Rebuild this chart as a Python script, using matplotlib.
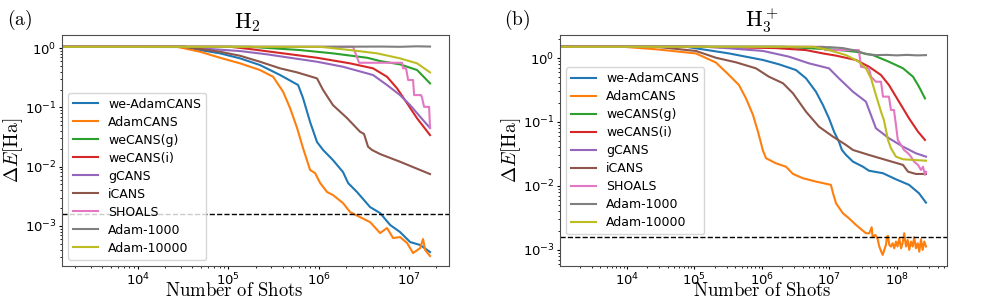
import matplotlib
matplotlib.use("Agg")
import matplotlib.pyplot as plt

plt.rcParams['mathtext.fontset'] = 'cm'

labels = ["we-AdamCANS", "AdamCANS", "weCANS(g)", "weCANS(i)", "gCANS",
          "iCANS", "SHOALS", "Adam-1000", "Adam-10000"]
colors = ["C0", "C1", "C2", "C3", "C4", "C5", "C6", "C7", "C8"]
chem_acc = 1.6e-3

# ---------------- H2 ----------------
h2_weadam_x = [1.44e3, 3.31e4, 4.86e4, 8.09e4, 1.35e5, 2.24e5, 3.74e5, 5.92e5, 6.71e5, 8.04e5,
               9.59e5, 1.12e6, 1.44e6, 1.86e6, 2.12e6, 2.66e6, 3.71e6, 4.79e6, 6.18e6, 7.96e6,
               1.03e7, 1.33e7, 1.71e7]
h2_weadam_y = [1.05, 1.05, 0.925, 0.814, 0.670, 0.517, 0.351, 0.238, 0.1435, 0.0565,
               0.0260, 0.0191, 0.0129, 8.11e-3, 5.28e-3, 3.73e-3, 2.08e-3, 1.65e-3, 1.04e-3, 7.89e-4,
               5.35e-4, 4.77e-4, 3.63e-4]

h2_adam_x = [1.44e3, 2.70e4, 4.86e4, 8.09e4, 1.35e5, 2.24e5, 3.13e5, 4.04e5, 4.82e5, 5.77e5,
             6.71e5, 8.04e5, 9.12e5, 1.04e6, 1.24e6, 1.44e6, 1.86e6, 2.23e6, 2.87e6, 3.71e6,
             4.79e6, 5.71e6, 6.67e6, 7.96e6, 9.53e6, 1.11e7, 1.33e7, 1.43e7, 1.51e7, 1.71e7]
h2_adam_y = [1.05, 1.05, 0.867, 0.686, 0.552, 0.426, 0.328, 0.183, 0.0973, 0.0448,
             0.0206, 8.77e-3, 7.80e-3, 5.28e-3, 3.73e-3, 3.32e-3, 2.43e-3, 1.71e-3, 1.41e-3, 1.16e-3,
             7.59e-4, 9.23e-4, 6.25e-4, 6.50e-4, 5.15e-4, 3.49e-4, 4.24e-4, 6.01e-4, 3.93e-4, 3.11e-4]

h2_wecg_x = [1.44e3, 1.74e5, 6.22e5, 1.44e6, 3.44e6, 4.79e6, 7.96e6, 1.23e7, 1.71e7]
h2_wecg_y = [1.05, 1.05, 0.925, 0.814, 0.686, 0.604, 0.531, 0.426, 0.254]

h2_weci_x = [1.44e3, 1.05e5, 1.74e5, 4.04e5, 9.59e5, 2.23e6, 4.00e6, 5.71e6, 7.38e6, 9.53e6,
             1.23e7, 1.71e7]
h2_weci_y = [1.05, 1.05, 0.962, 0.814, 0.686, 0.552, 0.455, 0.328, 0.209, 0.117,
             0.0652, 0.0341]

h2_gcans_x = [1.44e3, 3.77e4, 4.86e4, 1.35e5, 2.69e5, 4.82e5, 9.59e5, 1.86e6, 4.00e6, 5.71e6,
              7.96e6, 1.03e7, 1.33e7, 1.71e7]
h2_gcans_y = [1.05, 1.04, 0.99, 0.890, 0.783, 0.686, 0.588, 0.484, 0.351, 0.238,
              0.161, 0.109, 0.0694, 0.0448]

h2_icans_x = [1.44e3, 3.31e4, 4.86e4, 8.09e4, 1.35e5, 2.24e5, 3.74e5, 5.77e5, 9.59e5, 1.12e6,
              1.44e6, 2.06e6, 2.87e6, 3.18e6, 3.52e6, 3.90e6, 4.79e6, 7.96e6, 1.71e7]
h2_icans_y = [1.05, 1.05, 0.962, 0.867, 0.741, 0.588, 0.455, 0.389, 0.308, 0.196,
              0.109, 0.066, 0.0388, 0.0355, 0.0217, 0.0191, 0.0163, 0.0121, 7.50e-3]

h2_shoals_x = [1.44e3, 2.40e6, 2.60e6, 2.80e6, 8.39e6, 8.6e6, 9.29e6, 9.78e6, 1.11e7, 1.14e7,
               1.36e7, 1.39e7, 1.47e7, 1.67e7, 1.71e7]
h2_shoals_y = [1.05, 1.05, 0.762, 0.565, 0.565, 0.455, 0.455, 0.289, 0.289, 0.161,
               0.161, 0.149, 0.102, 0.102, 0.0448]

h2_adam1k_x = [1.44e3, 1e5, 1e6, 5e6, 8e6, 1.2e7, 1.71e7]
h2_adam1k_y = [1.05, 1.05, 1.05, 1.06, 1.05, 1.07, 1.06]

h2_adam10k_x = [1.44e3, 1.04e6, 2.23e6, 4.44e6, 7.96e6, 1.23e7, 1.71e7]
h2_adam10k_y = [1.05, 1.05, 0.925, 0.814, 0.670, 0.552, 0.389]

# ---------------- H3+ ----------------
h3_weadam_x = [887, 7.48e4, 3.25e5, 1.04e6, 1.79e6, 3.19e6, 4.49e6, 6.31e6, 8.01e6, 9.84e6,
               1.17e7, 1.38e7, 1.53e7, 1.76e7, 2.23e7, 3.13e7, 3.85e7, 6.21e7, 9.66e7, 1.51e8,
               2.12e8, 2.69e8]
h3_weadam_y = [1.5, 1.5, 1.18, 0.931, 0.797, 0.649, 0.482, 0.297, 0.184, 0.114,
               0.0705, 0.0492, 0.0365, 0.0305, 0.0240, 0.0200, 0.0173, 0.0158, 0.0127, 0.0104,
               7.69e-3, 5.48e-3]

h3_adam_x = [887, 8.73e3, 2.69e4, 1.05e5, 2.08e5, 3.25e5, 4.56e5, 5.80e5, 7.36e5, 8.73e5,
             1.04e6, 1.15e6, 1.61e6, 2.27e6, 2.88e6, 4.05e6, 6.31e6, 1.05e7, 1.13e7, 1.25e7,
             1.58e7, 1.94e7, 2.47e7, 3.47e7,
             3.89e7, 4.22e7, 4.36e7, 4.77e7, 5.18e7, 5.47e7, 5.85e7, 6.14e7, 6.49e7, 6.87e7,
             7.11e7, 7.36e7, 7.69e7, 8.15e7, 8.63e7, 9.12e7, 9.66e7, 1.02e8, 1.08e8, 1.15e8,
             1.21e8, 1.28e8, 1.36e8, 1.44e8, 1.52e8, 1.61e8, 1.71e8, 1.80e8, 1.91e8, 2.03e8,
             2.14e8, 2.27e8, 2.40e8, 2.54e8, 2.69e8]
h3_adam_y = [1.5, 1.5, 1.37, 1.18, 0.85, 0.542, 0.379, 0.234, 0.129, 0.0705,
             0.035, 0.0271, 0.0226, 0.0200, 0.0154, 0.0132, 0.0117, 0.0104, 7.69e-3, 5.37e-3,
             3.74e-3, 3.13e-3, 2.46e-3, 1.82e-3,
             1.82e-3, 2.26e-3, 1.58e-3, 1.72e-3, 1.47e-3, 1.13e-3, 9.4e-4, 8.35e-4, 1.0e-3, 1.20e-3,
             1.58e-3, 1.66e-3, 1.20e-3, 1.13e-3, 1.27e-3, 1.06e-3, 1.35e-3, 1.13e-3, 1.52e-3, 1.06e-3,
             1.27e-3, 1.82e-3, 1.13e-3, 1.43e-3, 1.0e-3, 1.35e-3, 1.13e-3, 1.58e-3, 1.06e-3, 1.27e-3,
             9.4e-4, 1.47e-3, 1.0e-3, 1.35e-3, 1.13e-3]

h3_wecg_x = [887, 2.0e6, 1.25e7, 2.47e7, 4.41e7, 7.60e7, 1.23e8, 1.73e8, 2.12e8, 2.60e8]
h3_wecg_y = [1.5, 1.5, 1.35, 1.25, 1.11, 0.875, 0.690, 0.510, 0.356, 0.234]

h3_weci_x = [887, 1.05e5, 1.61e6, 4.49e6, 8.01e6, 1.25e7, 2.47e7, 3.85e7, 5.80e7, 7.60e7,
             1.07e8, 1.51e8, 2.05e8, 2.60e8]
h3_weci_y = [1.5, 1.5, 1.43, 1.33, 1.18, 1.09, 0.931, 0.731, 0.542, 0.379,
             0.208, 0.114, 0.0705, 0.0524]

h3_gcans_x = [887, 1.48e5, 3.25e5, 1.04e6, 2.51e6, 4.97e6, 9.84e6, 1.38e7, 2.23e7, 3.47e7,
              4.88e7, 7.60e7, 1.23e8, 1.91e8, 2.69e8]
h3_gcans_y = [1.5, 1.5, 1.42, 1.29, 1.05, 0.826, 0.690, 0.482, 0.297, 0.208,
              0.0797, 0.0557, 0.0411, 0.0324, 0.0287]

h3_icans_x = [887, 2.69e4, 1.05e5, 2.08e5, 4.12e5, 8.15e5, 1.27e6, 2.05e6, 2.88e6, 4.49e6,
              6.99e6, 1.13e7, 1.76e7, 2.23e7, 3.85e7, 6.87e7, 1.23e8, 1.46e8, 1.91e8, 2.69e8]
h3_icans_y = [1.5, 1.5, 1.29, 1.01, 0.857, 0.690, 0.510, 0.403, 0.281, 0.145,
              0.0845, 0.0589, 0.0437, 0.0365, 0.0305, 0.0255, 0.0213, 0.0167, 0.0154, 0.0154]

h3_shoals_x = [887, 8.30e6, 8.57e6, 2.73e7, 2.93e7, 3.85e7, 4.12e7, 4.88e7, 5.80e7, 6.21e7,
               7.60e7, 8.15e7, 9.03e7, 9.66e7, 1.03e8, 1.15e8, 1.27e8, 1.46e8, 1.61e8, 1.79e8,
               2.05e8, 2.27e8, 2.43e8, 2.60e8, 2.69e8]
h3_shoals_y = [1.5, 1.5, 1.33, 1.33, 0.731, 0.690, 0.510, 0.426, 0.426, 0.249,
               0.249, 0.154, 0.154, 0.0898, 0.0524, 0.0437, 0.0365, 0.0324, 0.0287, 0.0240,
               0.0213, 0.0178, 0.0200, 0.0149, 0.0166]

h3_adam1k_x = [887, 1e6, 1.0e7, 1.58e7, 2.5e7, 3.5e7, 5e7, 7e7, 1e8, 1.4e8, 2e8, 2.69e8]
h3_adam1k_y = [1.5, 1.5, 1.48, 1.43, 1.3, 1.15, 1.11, 1.12, 1.10, 1.12, 1.10, 1.11]

h3_adam10k_x = [887, 5.70e6, 9.84e6, 1.76e7, 2.73e7, 3.47e7, 4.12e7, 4.88e7, 5.80e7, 6.41e7,
                7.36e7, 8.15e7, 9.66e7, 1.23e8, 2.69e8]
h3_adam10k_y = [1.5, 1.5, 1.33, 1.11, 0.875, 0.690, 0.482, 0.264, 0.145, 0.107,
                0.0524, 0.0388, 0.0287, 0.0261, 0.0248]

h2_series = [(h2_weadam_x, h2_weadam_y), (h2_adam_x, h2_adam_y), (h2_wecg_x, h2_wecg_y),
             (h2_weci_x, h2_weci_y), (h2_gcans_x, h2_gcans_y), (h2_icans_x, h2_icans_y),
             (h2_shoals_x, h2_shoals_y), (h2_adam1k_x, h2_adam1k_y), (h2_adam10k_x, h2_adam10k_y)]
h3_series = [(h3_weadam_x, h3_weadam_y), (h3_adam_x, h3_adam_y), (h3_wecg_x, h3_wecg_y),
             (h3_weci_x, h3_weci_y), (h3_gcans_x, h3_gcans_y), (h3_icans_x, h3_icans_y),
             (h3_shoals_x, h3_shoals_y), (h3_adam1k_x, h3_adam1k_y), (h3_adam10k_x, h3_adam10k_y)]

fig = plt.figure(figsize=(9.97, 3.0), dpi=100)
ax1 = fig.add_axes([0.0622, 0.1133, 0.3881, 0.77])
ax2 = fig.add_axes([0.5617, 0.1133, 0.3882, 0.77])


def draw_panel(ax, series, title, xlim, ylim, title_x, xlabel_x):
    for (x, y), lab, c in zip(series, labels, colors):
        ax.plot(x, y, color=c, lw=1.5, label=lab)
    ax.axhline(chem_acc, color="k", ls="--", lw=1)
    ax.set_xscale("log")
    ax.set_yscale("log")
    ax.set_xlim(xlim)
    ax.set_ylim(ylim)
    ax.set_title(title, fontsize=16, pad=5, x=title_x)
    ax.set_xlabel(r"$\mathrm{Number\ of\ Shots}$", fontsize=13.5, labelpad=-5.5)
    ax.xaxis.label.set_x(xlabel_x)
    ax.set_ylabel(r"$\Delta E[\mathrm{Ha}]$", fontsize=14, labelpad=0)
    ax.tick_params(which="major", labelsize=9.5, length=2.5, pad=1.5)
    ax.tick_params(which="minor", length=1.5)
    for sp in ax.spines.values():
        sp.set_edgecolor("0.3")


draw_panel(ax1, h2_series, r"$\mathrm{H}_2$", (1.44e3, 2.77e7), (2.11e-4, 1.66), 0.48, 0.444)
draw_panel(ax2, h3_series, r"$\mathrm{H}_3^+$", (1.02e3, 5.52e8), (5.6e-4, 2.29), 0.522, 0.522)

ax1.legend(loc="lower left", fontsize=9, labelspacing=0.4)
ax2.legend(loc="center left", fontsize=9, labelspacing=0.4)

fig.text(0.007, 0.935, r"$\mathrm{(a)}$", fontsize=14, va="center")
fig.text(0.506, 0.935, r"$\mathrm{(b)}$", fontsize=14, va="center")

fig.savefig("out.png", dpi=100)
